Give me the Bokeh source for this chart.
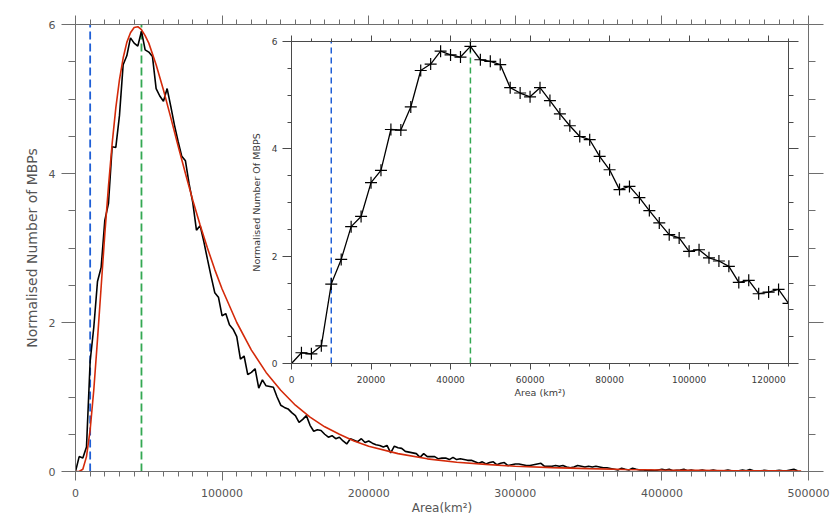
from bokeh.plotting import figure
from bokeh.models import (Range1d, LinearAxis, SingleIntervalTicker,
                          BasicTickFormatter, CustomJSTickFormatter)
from bokeh.layouts import column
from bokeh.embed import file_html
from bokeh.resources import INLINE

# ---------------- data ----------------
BIN = 2500  # histogram bin width (km^2)

# histogram (normalised number of MBPs) for bins 0 .. 125000 (also shown in inset)
hist_head = [0.00, 0.20, 0.18, 0.33, 1.48, 1.94, 2.55, 2.74, 3.37, 3.60,
             4.36, 4.35, 4.78, 5.46, 5.58, 5.82, 5.75, 5.71, 5.91, 5.66,
             5.63, 5.57, 5.14, 5.04, 4.97, 5.14, 4.90, 4.65, 4.43, 4.23,
             4.17, 3.86, 3.61, 3.24, 3.30, 3.09, 2.85, 2.62, 2.40, 2.34,
             2.09, 2.12, 1.97, 1.91, 1.81, 1.51, 1.55, 1.30, 1.33, 1.38,
             1.12]

# histogram tail, bins 127500 .. 492500
hist_tail = [1.23, 1.15, 1.14, 1.13, 1.00, 0.89, 0.86, 0.84, 0.79, 0.75,
             0.66, 0.70, 0.75, 0.62, 0.54, 0.56, 0.55, 0.50, 0.46, 0.48,
             0.44, 0.46, 0.41, 0.37, 0.44, 0.42, 0.40, 0.44, 0.39, 0.41,
             0.38, 0.36, 0.35, 0.33, 0.35, 0.25, 0.34, 0.32, 0.31, 0.27,
             0.26, 0.25, 0.24, 0.19, 0.24, 0.20, 0.20, 0.20, 0.17, 0.18,
             0.18, 0.16, 0.19, 0.16, 0.17, 0.16, 0.15, 0.15, 0.13, 0.11,
             0.13, 0.10, 0.12, 0.13, 0.09, 0.11, 0.12, 0.08, 0.09, 0.10,
             0.10, 0.09, 0.08, 0.08, 0.09, 0.10, 0.11, 0.07, 0.07, 0.07,
             0.08, 0.07, 0.08, 0.06, 0.05, 0.06, 0.08, 0.07, 0.06, 0.07,
             0.06, 0.07, 0.06, 0.05, 0.05, 0.04, 0.03, 0.02, 0.045, 0.03,
             0.02, 0.045, 0.03, 0.02, 0.02, 0.01, 0.015, 0.01, 0.02, 0.03,
             0.02, 0.03, 0.01, 0.015, 0.02, 0.03, 0.01, 0.02, 0.01, 0.01,
             0.02, 0.01, 0.01, 0.02, 0.01, 0.01, 0.01, 0.02, 0.01, 0.01,
             0.01, 0.02, 0.01, 0.025, 0.01, 0.01, 0.01, 0.015, 0.01, 0.01,
             0.01, 0.015, 0.01, 0.01, 0.02, 0.03, 0.01]

hist_all = hist_head + hist_tail
hist_x_all = [i * BIN for i in range(len(hist_all))]
hist_x_head = [i * BIN for i in range(len(hist_head))]

# fitted curve (red)
fit_x = [0, 2500, 5000, 7500, 10000, 12500, 15000, 17500, 20000, 22500,
         25000, 27500, 30000, 32500, 35000, 37500, 40000, 42500, 45000, 47500,
         50000, 55000, 60000, 65000, 70000, 75000, 80000, 85000, 90000, 95000,
         100000, 110000, 120000, 130000, 140000, 150000, 160000, 170000,
         180000, 190000, 200000, 220000, 240000, 260000, 280000, 300000,
         325000, 350000, 375000, 400000, 425000, 450000, 475000, 495000]
fit_y = [0.00, 0.00, 0.03, 0.20, 0.56, 1.10, 1.77, 2.48, 3.19, 3.83,
         4.40, 4.88, 5.26, 5.55, 5.76, 5.89, 5.96, 5.97, 5.93, 5.85,
         5.75, 5.46, 5.12, 4.75, 4.37, 4.00, 3.64, 3.31, 3.00, 2.71,
         2.45, 2.00, 1.63, 1.33, 1.09, 0.89, 0.73, 0.60,
         0.50, 0.41, 0.34, 0.24, 0.17, 0.125, 0.095, 0.07,
         0.052, 0.038, 0.027, 0.02, 0.015, 0.011, 0.008, 0.007]

blue_x = 10000    # blue dashed marker
green_x = 45000   # green dashed marker (peak)
y_span = [0, 6]

main_xticks = 100000
inset_xticks = 20000
yticks = 2

FONT = "DejaVu Sans"
MAIN_AX = "#6e6e6e"
MAIN_TXT = "#555555"
INS_AX = "#4a4a4a"
INS_TXT = "#3a3a3a"
BLUE = "#1f5fd6"
GREEN = "#33a852"
RED = "#d42a0a"

# borders (shared by both figures: the column aligns them)
BL, BR = 75, 22


def axis(ticker_int, minor, tick_out, minor_out, color, txt, size,
         label=None, label_size=None, labels=True, standoff=6, lstandoff=4):
    kw = dict(
        ticker=SingleIntervalTicker(interval=ticker_int, num_minor_ticks=minor),
        major_tick_in=0, major_tick_out=tick_out,
        minor_tick_in=0, minor_tick_out=minor_out,
        axis_line_color=color, major_tick_line_color=color,
        minor_tick_line_color=color, axis_line_width=1,
        major_label_text_font=FONT, major_label_text_color=txt,
        major_label_text_font_size=size, major_label_standoff=standoff,
    )
    if labels:
        kw["formatter"] = BasicTickFormatter(use_scientific=False)
    else:
        kw["formatter"] = CustomJSTickFormatter(code="return ''")
        kw["major_label_text_font_size"] = "0px"
        kw["major_label_standoff"] = 0
    if label:
        kw.update(axis_label=label, axis_label_text_font=FONT,
                  axis_label_text_font_size=label_size,
                  axis_label_text_font_style="normal",
                  axis_label_text_color=txt,
                  axis_label_standoff=lstandoff)
    return LinearAxis(**kw)


# ---------------- main figure ----------------
W, H = 830, 519
p = figure(width=W, height=H, x_range=Range1d(0, 500000),
           y_range=Range1d(0, 6), x_axis_type=None, y_axis_type=None,
           output_backend="svg", toolbar_location=None,
           min_border_left=BL, min_border_right=BR, min_border_top=24,
           min_border_bottom=48, outline_line_color=None)
p.xgrid.visible = False
p.ygrid.visible = False

p.add_layout(axis(main_xticks, 10, 9, 5, MAIN_AX, MAIN_TXT, "11px",
                  label="Area(km²)", label_size="12px", standoff=8,
                  lstandoff=1), "below")
p.add_layout(axis(main_xticks, 10, 9, 5, MAIN_AX, MAIN_TXT, "11px",
                  labels=False), "above")
p.add_layout(axis(yticks, 4, 14, 7, MAIN_AX, MAIN_TXT, "11px",
                  label="Normalised Number of MBPs", label_size="14px",
                  standoff=6, lstandoff=6), "left")
p.add_layout(axis(yticks, 4, 15, 7, MAIN_AX, MAIN_TXT, "11px",
                  labels=False), "right")

p.line([blue_x, blue_x], y_span, line_color=BLUE, line_width=1.8,
       line_dash="8 4")
p.line([green_x, green_x], y_span, line_color=GREEN, line_width=1.8,
       line_dash="8 4")
p.line(hist_x_all, hist_all, line_color="black", line_width=1.6)
p.line(fit_x, fit_y, line_color=RED, line_width=1.6)

# ---------------- inset figure ----------------
INS_FRAME_W, INS_FRAME_H = 497, 322
INS_BT, INS_BB = 10, 45
ins_left, ins_top = 291 - BL, 41 - INS_BT
ins_w = BL + INS_FRAME_W + BR
ins_h = INS_BT + INS_FRAME_H + INS_BB
q = figure(width=ins_w, height=ins_h, x_range=Range1d(0, 125000),
           y_range=Range1d(0, 6), x_axis_type=None, y_axis_type=None,
           output_backend="svg", toolbar_location=None,
           min_border_left=BL, min_border_right=BR, min_border_top=INS_BT,
           min_border_bottom=INS_BB, outline_line_color=None,
           background_fill_alpha=0, border_fill_alpha=0)
q.xgrid.visible = False
q.ygrid.visible = False
q.margin = (ins_top - H, 0, H - (ins_top + ins_h), ins_left)

q.add_layout(axis(inset_xticks, 4, 6, 3, INS_AX, INS_TXT, "9px",
                  label="Area (km²)", label_size="9.5px", standoff=6,
                  lstandoff=1), "below")
q.add_layout(axis(inset_xticks, 4, 6, 3, INS_AX, INS_TXT, "9px",
                  labels=False), "above")
q.add_layout(axis(yticks, 4, 9, 4, INS_AX, INS_TXT, "9px",
                  label="Normalised Number Of MBPS", label_size="9.5px",
                  standoff=5, lstandoff=7), "left")
q.add_layout(axis(yticks, 4, 10, 5, INS_AX, INS_TXT, "9px",
                  labels=False), "right")

q.line([blue_x, blue_x], y_span, line_color=BLUE, line_width=1.5,
       line_dash="6 4")
q.line([green_x, green_x], y_span, line_color=GREEN, line_width=1.5,
       line_dash="6 4")
q.line(hist_x_head, hist_head, line_color="black", line_width=1.3)
q.scatter(hist_x_head, hist_head, marker="cross", size=12,
          line_color="black", line_width=1.2)

layout = column(p, q)
open("out.html", "w").write(file_html(layout, INLINE, "MBP areas"))
